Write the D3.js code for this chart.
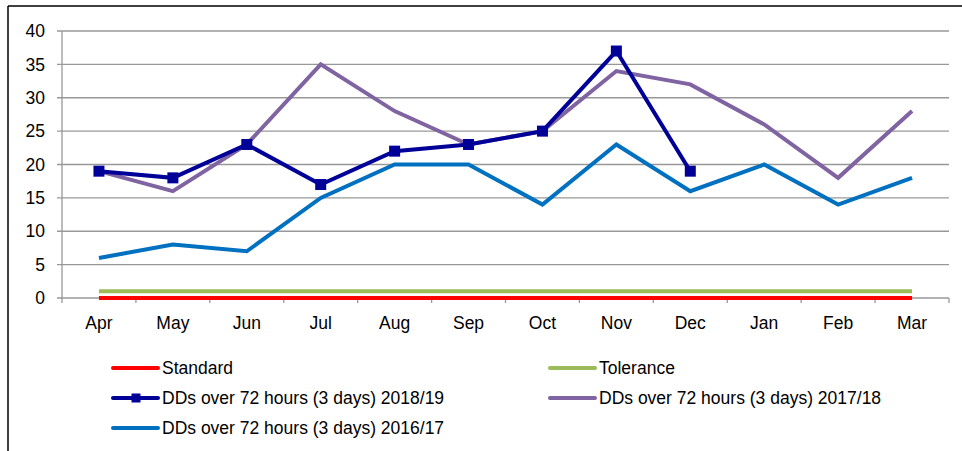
<!DOCTYPE html>
<html>
<head>
<meta charset="utf-8">
<script src="https://cdn.jsdelivr.net/npm/d3@7"></script>
<style>
  body { margin: 0; background: #fff; }
  text { font-family: "Liberation Sans", Arial, sans-serif; fill: #000; }
</style>
</head>
<body>
<div id="chart"></div>
<script>
// chart data
const months = ["Apr", "May", "Jun", "Jul", "Aug", "Sep", "Oct", "Nov", "Dec", "Jan", "Feb", "Mar"];
const standard = [0, 0, 0, 0, 0, 0, 0, 0, 0, 0, 0, 0];
const tolerance = [1, 1, 1, 1, 1, 1, 1, 1, 1, 1, 1, 1];
const dd1819 = [19, 18, 23, 17, 22, 23, 25, 37, 19];
const dd1718 = [19, 16, 23, 35, 28, 23, 25, 34, 32, 26, 18, 28];
const dd1617 = [6, 8, 7, 15, 20, 20, 14, 23, 16, 20, 14, 18];
const yTicks = [0, 5, 10, 15, 20, 25, 30, 35, 40];

const series = [
    { name: "Standard", values: standard, color: "#ff0000" },
    { name: "Tolerance", values: tolerance, color: "#9bbb59" },
    { name: "DDs over 72 hours (3 days) 2016/17", values: dd1617, color: "#0070c0" },
    { name: "DDs over 72 hours (3 days) 2017/18", values: dd1718, color: "#8064a2" },
    { name: "DDs over 72 hours (3 days) 2018/19", values: dd1819, color: "#000099", marker: true }
];

const W = 962, H = 451;
const plot = { left: 62, right: 949, top: 31, bottom: 298 };
const fontSize = "17.5px";

const svg = d3.select("#chart").append("svg")
    .attr("width", W)
    .attr("height", H);

// outer frame (top and left edges visible)
svg.append("line").attr("x1", 8).attr("x2", W).attr("y1", 6).attr("y2", 6)
    .attr("stroke", "#000").attr("stroke-width", 1.5);
svg.append("line").attr("x1", 8).attr("x2", 8).attr("y1", 6).attr("y2", H)
    .attr("stroke", "#000").attr("stroke-width", 1.5);

const x = d3.scaleBand().domain(months).range([plot.left, plot.right]);
const y = d3.scaleLinear().domain([0, 40]).range([plot.bottom, plot.top]);

// gridlines + y ticks
svg.append("g")
    .selectAll("line")
    .data(yTicks)
    .enter().append("line")
    .attr("x1", plot.left - 5)
    .attr("x2", plot.right)
    .attr("y1", d => y(d))
    .attr("y2", d => y(d))
    .attr("stroke", "#989898")
    .attr("stroke-width", 1.3);

svg.append("g")
    .selectAll("text")
    .data(yTicks)
    .enter().append("text")
    .attr("x", 45)
    .attr("y", d => y(d))
    .attr("dy", "0.35em")
    .attr("text-anchor", "end")
    .style("font-size", fontSize)
    .text(d => d);

// y axis line
svg.append("line")
    .attr("x1", plot.left).attr("x2", plot.left)
    .attr("y1", plot.top).attr("y2", plot.bottom)
    .attr("stroke", "#989898").attr("stroke-width", 1.3);

// x tick marks at band boundaries
const bounds = months.map(m => x(m)).concat([plot.right]);
svg.append("g")
    .selectAll("line")
    .data(bounds)
    .enter().append("line")
    .attr("x1", d => d).attr("x2", d => d)
    .attr("y1", plot.bottom).attr("y2", plot.bottom + 5)
    .attr("stroke", "#989898").attr("stroke-width", 1.3);

svg.append("g")
    .selectAll("text")
    .data(months)
    .enter().append("text")
    .attr("x", d => x(d) + x.bandwidth() / 2)
    .attr("y", 329)
    .attr("text-anchor", "middle")
    .style("font-size", fontSize)
    .text(d => d);

const line = d3.line()
    .x((d, i) => x(months[i]) + x.bandwidth() / 2)
    .y(d => y(d));

series.forEach(s => {
    svg.append("path")
        .datum(s.values)
        .attr("d", line)
        .attr("fill", "none")
        .attr("stroke", s.color)
        .attr("stroke-width", 4)
        .attr("stroke-linejoin", "miter");
    if (s.marker) {
        svg.append("g")
            .selectAll("rect")
            .data(s.values)
            .enter().append("rect")
            .attr("x", (d, i) => x(months[i]) + x.bandwidth() / 2 - 5.5)
            .attr("y", d => y(d) - 5.5)
            .attr("width", 11)
            .attr("height", 11)
            .attr("fill", s.color);
    }
});

// legend
const legendItems = [
    { s: series[0], x: 113, y: 368 },
    { s: series[1], x: 550, y: 368 },
    { s: series[4], x: 113, y: 398 },
    { s: series[3], x: 550, y: 398 },
    { s: series[2], x: 113, y: 428 }
];

const legend = svg.append("g")
    .selectAll("g")
    .data(legendItems)
    .enter().append("g")
    .attr("transform", d => `translate(${d.x},${d.y})`);

legend.append("line")
    .attr("x1", 0).attr("x2", 45)
    .attr("stroke", d => d.s.color)
    .attr("stroke-width", 4)
    .attr("stroke-linecap", "round");

legend.filter(d => d.s.marker).append("rect")
    .attr("x", 18.5).attr("y", -4.5)
    .attr("width", 9).attr("height", 9)
    .attr("fill", d => d.s.color);

legend.append("text")
    .attr("x", 49)
    .attr("dy", "0.35em")
    .style("font-size", fontSize)
    .text(d => d.s.name);
</script>
</body>
</html>
